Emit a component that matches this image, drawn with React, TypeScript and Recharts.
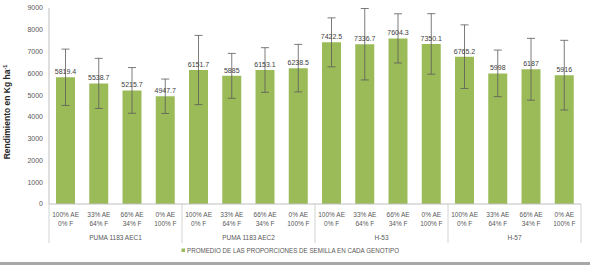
import React from 'react';
import { BarChart, Bar, XAxis, YAxis, ErrorBar, LabelList, Legend } from 'recharts';

const groups = ['PUMA 1183 AEC1', 'PUMA 1183 AEC2', 'H-53', 'H-57'];
const proportionsTop = ['100% AE', '33% AE', '66% AE', '0% AE'];
const proportionsBottom = ['0% F', '64% F', '34% F', '100% F'];
const yields = [5819.4, 5538.7, 5215.7, 4947.7, 6151.7, 5885, 6153.1, 6238.5, 7422.5, 7336.7, 7604.3, 7350.1, 6765.2, 5998, 6187, 5916];
const errors = [1293, 1150, 1050, 790, 1590, 1030, 1025, 1090, 1125, 1640, 1130, 1390, 1460, 1070, 1420, 1600];
const yTicks = [0, 1000, 2000, 3000, 4000, 5000, 6000, 7000, 8000, 9000];
const legendLabel = 'PROMEDIO DE LAS PROPORCIONES DE SEMILLA EN CADA GENOTIPO';
const yTitle = 'Rendimiento en Kg ha';

const data = yields.map((v, i) => ({
  key: 'c' + i,
  top: proportionsTop[i % proportionsTop.length],
  bottom: proportionsBottom[i % proportionsBottom.length],
  group: groups[Math.floor(i / proportionsTop.length)],
  value: v,
  err: errors[i],
}));

const W = 590;
const H = 265;
const MARGIN = { top: 8, right: 9, left: 0, bottom: 0 };
const Y_W = 49;
const PLOT_W = W - MARGIN.left - MARGIN.right - Y_W;
const BAND = PLOT_W / data.length;
const GREEN = '#9BBB59';
const GREY_TEXT = '#595959';
const SEP = '#c8c8c8';
const FONT = '"Liberation Sans", Arial, sans-serif';

function CatTick(props: any) {
  const { x, y, index } = props;
  const d = data[index];
  if (!d) return null;
  const n = proportionsTop.length;
  const pos = index % n;
  return (
    <g>
      <text x={x} y={y + 12.5} textAnchor="middle" fontSize={6.5} fill={GREY_TEXT} fontFamily={FONT}>{d.top}</text>
      <text x={x} y={y + 22} textAnchor="middle" fontSize={6.5} fill={GREY_TEXT} fontFamily={FONT}>{d.bottom}</text>
      {pos === 0 && <line x1={x - BAND / 2} x2={x - BAND / 2} y1={y} y2={y + 39} stroke={SEP} strokeWidth={0.8} />}
      {index === data.length - 1 && <line x1={x + BAND / 2} x2={x + BAND / 2} y1={y} y2={y + 39} stroke={SEP} strokeWidth={0.8} />}
      {pos === 1 && (
        <text x={x + BAND / 2} y={y + 36} textAnchor="middle" fontSize={6.5} fill={GREY_TEXT} fontFamily={FONT}>{d.group}</text>
      )}
    </g>
  );
}

function YTitle() {
  return (
    <text transform="translate(10,112) rotate(-90)" textAnchor="middle" fontSize={8.5} fontWeight="bold" fill="#262626" fontFamily={FONT}>
      {yTitle}
      <tspan dy={-3} fontSize={5.5}>-1</tspan>
    </text>
  );
}

function LegendContent() {
  return (
    <svg width={W} height={21} style={{ display: 'block' }}>
      <rect x={181.5} y={4.5} width={3.5} height={3.5} fill={GREEN} />
      <text x={187} y={8.8} fontSize={6.5} fill={GREY_TEXT} fontFamily={FONT} textLength={212} lengthAdjust="spacingAndGlyphs">{legendLabel}</text>
      <rect x={0} y={18} width={W} height={3} fill="#a8a8a8" />
    </svg>
  );
}

export default function App() {
  return (
    <div style={{ position: 'absolute', left: 0, top: 0, width: W, height: H, background: '#fff' }}>
      <BarChart width={W} height={H} data={data} margin={MARGIN} style={{ fontFamily: FONT }}>
        <XAxis
          dataKey="key"
          interval={0}
          height={40}
          tickSize={0}
          tickMargin={0}
          axisLine={{ stroke: '#bfbfbf' }}
          tickLine={false}
          tick={<CatTick />}
        />
        <YAxis
          width={Y_W}
          domain={[0, 9000]}
          ticks={yTicks}
          interval={0}
          tickLine={false}
          tickMargin={0}
          axisLine={{ stroke: '#bfbfbf' }}
          tick={{ fontSize: 7, fill: GREY_TEXT, fontFamily: FONT }}
          label={<YTitle />}
        />
        <Legend verticalAlign="bottom" height={21} content={<LegendContent />} />
        <Bar dataKey="value" fill={GREEN} barSize={19} isAnimationActive={false}>
          <ErrorBar dataKey="err" width={4} stroke="#5a5a5a" strokeWidth={0.8} isAnimationActive={false} />
          <LabelList dataKey="value" position="top" offset={3} fill="#404040" fontSize={7} fontFamily={FONT} />
        </Bar>
      </BarChart>
    </div>
  );
}
